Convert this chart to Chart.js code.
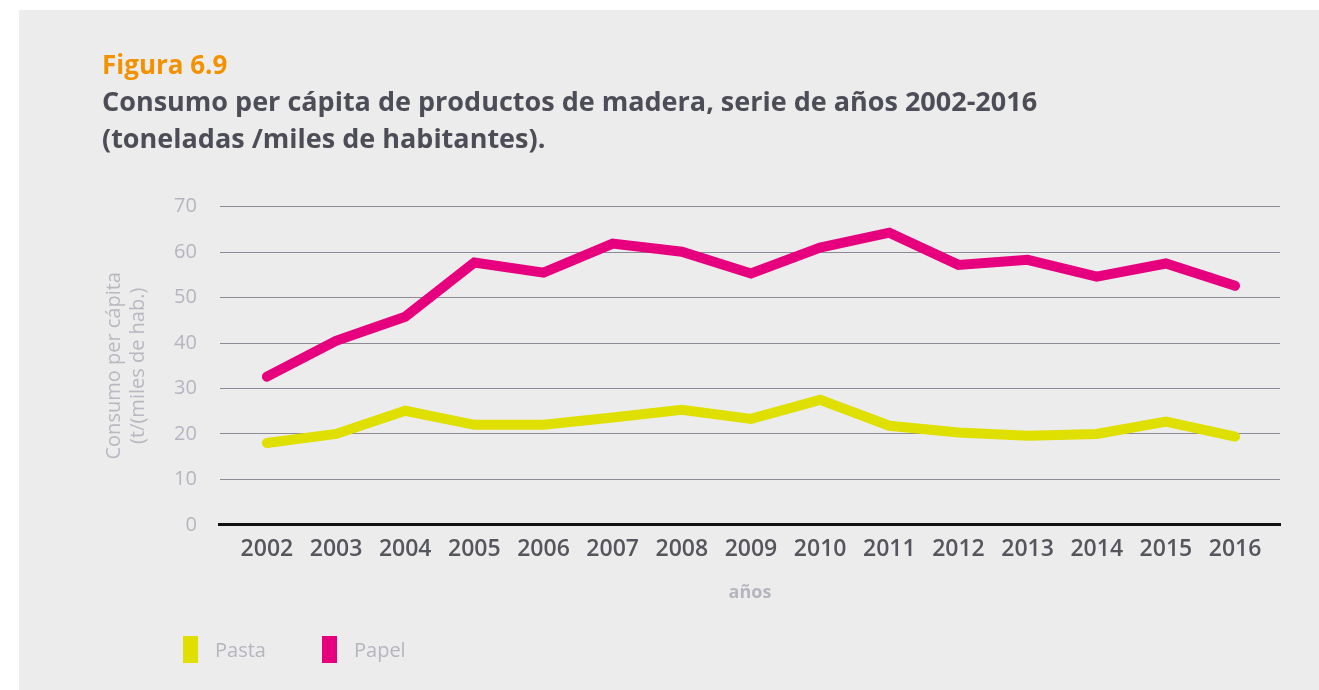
<!DOCTYPE html>
<html>
<head>
<meta charset="utf-8">
<script src="https://cdn.jsdelivr.net/npm/chart.js@4.4.1/dist/chart.umd.min.js"></script>
<style>
    body { margin: 0; background: #ffffff; }
    #panel { position: absolute; left: 19px; top: 10px; width: 1300px; height: 680px; background: #ececec; }
    #legend { position: absolute; left: 164px; top: 626px; display: flex; font-family: "Open Sans", sans-serif; font-size: 20px; color: #b5b5c0; }
    .item { display: flex; align-items: center; width: 139px; }
    .box { width: 15px; height: 27px; margin-right: 17px; }
</style>
</head>
<body>
<div id="panel">
    <canvas id="lineChart" width="1300" height="680"></canvas>
    <div id="legend"></div>
</div>
<script>
// Chart data
const years = [2002, 2003, 2004, 2005, 2006, 2007, 2008, 2009, 2010, 2011, 2012, 2013, 2014, 2015, 2016];
const pasta = [18.0, 20.0, 25.1, 22.0, 22.0, 23.6, 25.3, 23.3, 27.5, 21.8, 20.3, 19.6, 20.0, 22.7, 19.4];
const papel = [32.6, 40.5, 45.8, 57.7, 55.5, 61.9, 60.1, 55.3, 61.0, 64.3, 57.2, 58.3, 54.6, 57.5, 52.6];
const yTicks = [0, 10, 20, 30, 40, 50, 60, 70];

const toPoints = (arr) => arr.map((v, i) => ({ x: years[i], y: v }));

document.addEventListener('DOMContentLoaded', function() {
    const ctx = document.getElementById('lineChart').getContext('2d');

    const chart = new Chart(ctx, {
        type: 'line',
        data: {
            datasets: [
                {
                    label: 'Pasta',
                    data: toPoints(pasta),
                    borderColor: '#dfdf00',
                    backgroundColor: '#dfdf00',
                    borderWidth: 10,
                    borderCapStyle: 'round',
                    borderJoinStyle: 'miter',
                    pointRadius: 0,
                    tension: 0
                },
                {
                    label: 'Papel',
                    data: toPoints(papel),
                    borderColor: '#e6007e',
                    backgroundColor: '#e6007e',
                    borderWidth: 10,
                    borderCapStyle: 'round',
                    borderJoinStyle: 'miter',
                    pointRadius: 0,
                    tension: 0
                }
            ]
        },
        options: {
            responsive: false,
            animation: false,
            layout: {
                padding: { left: 83, right: 39, top: 0, bottom: 86 }
            },
            plugins: {
                legend: { display: false },
                tooltip: { enabled: false },
                title: {
                    display: true,
                    text: 'Figura 6.9',
                    align: 'start',
                    color: '#f39200',
                    font: { family: 'Open Sans', size: 26, weight: 'bold' },
                    padding: { top: 41, bottom: 2 }
                },
                subtitle: {
                    display: true,
                    text: ['Consumo per cápita de productos de madera, serie de años 2002-2016', '(toneladas /miles de habitantes).'],
                    align: 'start',
                    color: '#4d4d57',
                    font: { family: 'Open Sans', size: 27, weight: 'bold', lineHeight: 1.38 },
                    padding: { top: 0, bottom: 48 }
                }
            },
            scales: {
                x: {
                    type: 'linear',
                    min: 2001.32,
                    max: 2016.65,
                    afterBuildTicks: (scale) => {
                        scale.ticks = years.map(v => ({ value: v }));
                    },
                    grid: { display: false, drawTicks: false },
                    border: { display: true, color: '#111111', width: 3 },
                    ticks: {
                        autoSkip: false,
                        maxRotation: 0,
                        padding: 11,
                        color: '#55555e',
                        font: { family: 'Open Sans', size: 23, weight: '600' },
                        callback: (value) => String(value)
                    },
                    title: {
                        display: true,
                        text: 'años',
                        color: '#b5b5c0',
                        font: { family: 'Open Sans', size: 18, weight: 'bold' },
                        padding: { top: 8, bottom: 0 }
                    }
                },
                y: {
                    min: 0,
                    max: 70,
                    afterBuildTicks: (scale) => {
                        scale.ticks = yTicks.map(v => ({ value: v }));
                    },
                    grid: { color: '#8c8c94', lineWidth: 1, drawTicks: false },
                    border: { display: false },
                    ticks: {
                        padding: 23,
                        color: '#b5b5c0',
                        font: { family: 'Open Sans', size: 20 }
                    },
                    title: {
                        display: true,
                        text: ['Consumo per cápita', '(t/(miles de hab.)'],
                        color: '#b8b8c2',
                        font: { family: 'Open Sans', size: 20, lineHeight: 1.2 },
                        padding: { top: 0, bottom: 1 }
                    }
                }
            }
        }
    });

    // Legend built from the datasets
    const legend = document.getElementById('legend');
    chart.data.datasets.forEach(ds => {
        const item = document.createElement('div');
        item.className = 'item';
        const box = document.createElement('span');
        box.className = 'box';
        box.style.background = ds.borderColor;
        const label = document.createElement('span');
        label.textContent = ds.label;
        item.appendChild(box);
        item.appendChild(label);
        legend.appendChild(item);
    });
});
</script>
</body>
</html>
